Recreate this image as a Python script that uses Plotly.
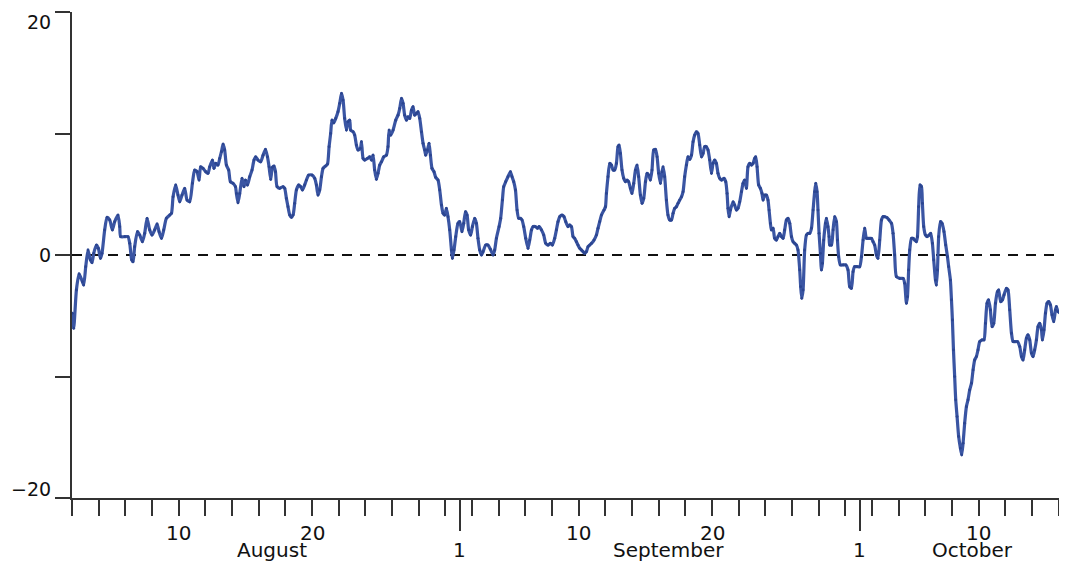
import plotly.graph_objects as go

# ---- data (x in days from left edge of axis, y in series units) ----
day = [0.03,0.13,0.33,0.53,0.78,0.88,1.03,1.20,1.38,1.50,1.63,1.83,1.98,2.13,2.25,2.45,2.63,2.83,3.03,3.20,
3.45,3.58,3.65,3.95,4.20,4.33,4.48,4.58,4.70,4.91,5.08,5.28,5.45,5.63,5.83,6.00,6.20,6.38,6.53,6.71,
6.88,7.08,7.33,7.46,7.58,7.78,7.95,8.08,8.25,8.45,8.63,8.83,9.03,9.20,9.38,9.53,9.65,9.83,10.03,10.20,
10.33,10.53,10.65,10.78,10.95,11.08,11.21,11.33,11.45,11.58,11.75,11.88,12.08,12.26,12.33,12.45,12.58,12.75,12.90,13.01,
13.16,13.33,13.50,13.65,13.78,13.95,14.15,14.33,14.51,14.66,14.78,14.90,15.03,15.15,15.26,15.38,15.58,15.83,15.95,16.08,
16.20,16.33,16.46,16.58,16.70,16.83,17.00,17.15,17.28,17.45,17.58,17.75,18.00,18.20,18.33,18.45,18.58,18.71,18.83,19.01,
19.16,19.28,19.40,19.50,19.63,19.78,19.95,20.08,20.21,20.33,20.45,20.58,20.70,20.83,20.90,21.08,21.20,21.33,21.45,21.63,
21.71,21.83,21.95,22.16,22.33,22.46,22.58,22.70,22.83,22.95,23.08,23.21,23.38,23.58,23.70,23.78,23.90,24.08,24.28,24.45,
24.58,24.71,24.83,24.95,25.08,25.20,25.33,25.46,25.58,25.70,25.83,25.95,26.08,26.21,26.33,26.45,26.53,26.66,26.78,26.88,
27.00,27.15,27.28,27.45,27.58,27.71,27.83,27.95,28.08,28.20,28.33,28.46,28.53,28.65,28.78,28.95,29.08,29.25,29.38,29.51,
29.63,29.75,29.90,30.03,30.20,30.33,30.45,30.58,30.71,30.83,31.03,31.20,31.38,31.58,31.70,31.83,32.03,32.15,32.28,32.38,
32.53,32.70,32.88,33.00,33.13,33.26,33.38,33.50,33.63,33.75,33.88,34.03,34.20,34.33,34.46,34.58,34.76,34.91,35.03,35.21,
35.38,35.53,35.70,35.88,36.03,36.20,36.33,36.45,36.58,36.75,36.90,37.03,37.20,37.33,37.46,37.58,37.70,37.83,37.95,38.08,
38.21,38.33,38.45,38.58,38.70,38.83,38.96,39.15,39.33,39.45,39.58,39.71,39.90,40.01,40.08,40.20,40.33,40.46,40.58,40.70,
40.83,40.95,41.03,41.13,41.25,41.38,41.51,41.63,41.75,41.88,42.00,42.13,42.26,42.38,42.50,42.63,42.75,42.88,43.01,43.13,
43.25,43.38,43.50,43.63,43.76,43.88,44.00,44.13,44.25,44.33,44.45,44.58,44.70,44.83,44.96,45.08,45.20,45.33,45.45,45.58,
45.71,45.83,45.95,46.08,46.20,46.33,46.46,46.58,46.70,46.83,46.95,47.08,47.21,47.33,47.45,47.58,47.70,47.83,47.96,48.08,
48.20,48.33,48.45,48.58,48.71,48.90,49.03,49.13,49.20,49.28,49.38,49.58,49.70,49.83,49.95,50.08,50.21,50.33,50.45,50.58,
50.70,50.83,50.96,51.08,51.20,51.28,51.38,51.50,51.63,51.75,51.83,51.95,52.08,52.20,52.28,52.38,52.46,52.58,52.70,52.83,
52.95,53.08,53.21,53.33,53.45,53.58,53.70,53.83,53.96,54.08,54.20,54.33,54.45,54.58,54.65,54.73,54.83,54.95,55.08,55.20,
55.33,55.46,55.58,55.70,55.78,55.88,55.95,56.03,56.13,56.21,56.28,56.38,56.51,56.58,56.70,56.78,56.83,56.96,57.08,57.20,
57.33,57.41,57.50,57.63,57.83,58.03,58.20,58.33,58.46,58.58,58.70,58.88,59.08,59.21,59.33,59.45,59.58,59.70,59.83,59.96,
60.08,60.20,60.33,60.45,60.58,60.71,60.83,60.95,61.13,61.28,61.46,61.58,61.70,61.83,62.08,62.33,62.45,62.58,62.66,62.75,
62.83,62.96,63.08,63.20,63.33,63.41,63.50,63.60,63.71,63.78,63.88,64.01,64.13,64.28,64.40,64.53,64.63,64.76,64.83,64.91,
65.00,65.13,65.25,65.40,65.53,65.66,65.75,65.88,65.96,66.03,66.11,66.20,66.28,66.38,66.50,66.63,66.73,66.83,66.95,67.08,
67.20,67.33,67.46,67.58,67.70,67.83,67.95,68.08,68.25,68.40,68.51,68.63,68.75,68.88,69.00,69.13,69.26,69.41,69.50,69.65,
69.78,69.90,70.08,70.20,70.33,70.46,70.58,70.70,70.91,71.08,71.21,71.33,71.45,71.58,71.70,71.83,71.96,72.08,72.20,72.33,
72.45,72.58,72.71,72.78,72.90,73.01,73.13,73.25,73.38,73.50,73.63,73.76,73.83,73.95,74.08,74.33]

value = [-4.79,-6.03,-2.88,-1.56,-2.20,-2.47,-0.96,0.41,-0.41,-0.63,0.14,0.82,0.55,-0.27,0.14,2.06,3.10,2.88,2.06,2.74,
3.29,2.33,1.51,1.51,1.51,0.96,-0.41,-0.55,0.68,1.92,1.64,1.09,1.78,3.02,2.06,1.64,2.06,2.55,1.92,1.37,
2.06,3.02,3.29,3.43,4.79,5.76,4.93,4.38,4.93,5.49,4.52,4.38,5.90,6.99,6.85,6.17,7.26,7.13,6.85,6.72,
7.26,7.81,7.13,7.54,7.40,7.95,8.50,9.13,8.64,7.40,6.99,6.03,5.90,5.62,5.07,4.30,5.07,6.31,5.62,6.17,
5.76,6.44,6.99,7.81,8.08,7.81,7.67,8.22,8.69,8.08,7.26,6.23,7.21,7.32,6.85,5.62,5.49,5.62,5.49,4.66,
3.97,3.29,3.10,3.29,4.25,5.35,5.76,5.62,5.35,5.76,6.17,6.58,6.58,6.31,5.76,4.93,5.35,6.44,7.13,7.32,
7.48,8.91,10.01,11.10,10.88,11.24,11.79,12.48,13.30,12.75,11.24,10.28,10.96,11.10,10.28,10.14,9.87,9.05,8.64,8.78,
9.32,7.95,7.81,7.95,8.08,7.81,8.22,6.99,6.23,6.72,7.40,7.67,8.08,8.22,8.91,10.28,9.87,10.28,11.10,11.51,
12.06,12.89,12.48,11.51,11.10,11.37,11.24,11.92,12.20,11.51,11.65,11.79,11.24,10.14,9.19,8.64,8.22,8.64,9.19,8.22,
7.13,6.85,6.39,6.17,5.35,4.11,3.43,3.29,3.84,3.15,2.06,0.41,-0.27,0.41,1.51,2.61,2.74,1.92,2.61,3.56,
3.29,2.06,1.64,2.33,3.02,2.61,1.37,0.41,0.00,0.27,0.82,0.82,0.47,0.00,0.41,1.37,2.33,3.02,4.52,5.62,
6.03,6.44,6.85,6.44,6.03,5.35,3.70,3.02,3.02,2.88,2.33,1.37,0.55,1.23,2.06,2.33,2.33,2.20,2.33,2.06,
1.64,0.96,0.82,0.96,0.82,1.37,2.06,2.74,3.15,3.29,3.15,2.74,2.33,2.47,2.33,1.51,1.37,1.09,0.82,0.55,
0.41,0.27,0.14,0.27,0.68,0.82,0.96,1.23,1.64,2.20,2.74,3.29,3.70,3.97,5.07,6.44,7.54,7.40,6.99,6.99,
7.54,8.91,9.05,8.36,6.99,6.31,6.03,6.17,6.03,5.49,5.07,5.90,6.99,7.40,6.44,4.93,4.25,4.66,6.03,6.72,
6.58,6.17,6.99,8.64,8.69,8.08,6.72,5.90,6.85,7.26,6.44,4.52,3.29,2.88,2.88,3.43,3.84,3.97,4.25,4.52,
4.79,5.21,6.44,7.40,8.08,7.87,8.22,9.32,9.87,10.14,10.01,9.05,8.08,8.36,8.91,8.91,8.64,7.81,6.72,7.54,
7.81,7.54,6.72,6.31,6.17,6.31,6.03,5.07,3.84,3.15,3.70,4.38,4.11,3.70,3.84,4.38,5.21,5.90,6.17,5.49,
7.26,7.54,7.40,7.54,7.95,8.08,7.26,5.76,5.49,5.07,4.52,4.93,4.93,4.52,3.70,2.61,2.06,2.20,1.37,1.23,
1.51,1.78,1.51,1.37,2.06,2.88,3.02,2.61,1.51,1.09,0.96,0.82,0.41,-1.23,-2.61,-3.56,-2.88,0.41,1.64,1.78,
1.78,2.20,3.70,5.21,5.90,5.21,3.70,1.78,0.14,-1.23,-0.68,1.23,2.61,3.02,2.33,1.51,0.82,0.82,2.06,3.15,
2.74,1.23,-0.14,-0.82,-0.82,-0.82,-1.23,-2.61,-2.74,-1.37,-0.96,-0.96,-0.96,-0.14,1.23,2.20,1.37,1.37,1.37,1.37,
1.09,0.82,0.00,-0.27,1.23,2.88,3.15,3.15,3.07,2.88,2.61,1.78,0.00,-1.78,-1.92,-1.92,-2.33,-3.97,-3.43,-1.23,
0.41,1.37,1.37,1.23,1.09,1.51,3.97,5.76,5.62,4.25,2.33,1.64,1.51,1.64,1.78,0.96,-0.41,-2.06,-2.47,-1.23,
1.51,2.74,2.61,1.92,0.82,-0.14,-0.96,-2.06,-3.70,-5.35,-7.81,-10.01,-11.92,-13.30,-14.94,-15.90,-16.45,-15.49,-13.84,-12.48,
-11.92,-11.10,-10.55,-9.46,-8.64,-8.36,-7.81,-7.13,-6.99,-6.99,-5.62,-3.97,-3.70,-4.52,-5.90,-5.62,-3.97,-3.02,-2.88,-3.84,
-3.70,-3.29,-2.74,-2.88,-4.52,-6.44,-7.13,-7.13,-7.13,-7.54,-8.36,-8.64,-7.81,-6.85,-6.58,-6.99,-8.08,-8.36,-7.81,-6.99,
-5.90,-5.62,-6.17,-6.99,-6.17,-4.79,-3.97,-3.84,-4.11,-4.93,-5.49,-4.52,-4.25,-4.66,-4.75,-4.85]

y_tick_vals = [-20, -10, 0, 10, 20]
y_label_vals = [20, 0, -20]
y_label_text = ["20", "0", "\u221220"]

day_tick_pos = [8, 18, 38, 48, 68]
day_tick_text = ["10", "20", "10", "20", "10"]
month_start_pos = [29.08, 59.08]
month_start_text = ["1", "1"]
month_names = ["August", "September", "October"]
month_name_pos = [15.0, 44.7, 67.55]
minor_tick_pos = list(range(0, 75, 2))

X_RANGE = [0, 74.55]
FONT = "DejaVu Sans, Liberation Sans, Arial, sans-serif"
AXIS_COLOR = "#333333"
TXT = "#111111"

fig = go.Figure()
fig.add_trace(go.Scatter(
    x=day, y=value, mode="lines+markers",
    line=dict(color="#3a55a3", width=3.2, shape="spline", smoothing=0.6),
    marker=dict(color="#2b4590", size=2.8),
    hoverinfo="skip", showlegend=False,
))

fig.add_shape(type="line", xref="paper", yref="y", x0=0, x1=1, y0=0, y1=0,
              line=dict(color="#111111", width=2, dash="10px,8px"), layer="below")

# y-axis labels (end labels sit inside the tick positions as in the original)
y_shifts = {20: -10, 0: 0, -20: 9}
for yv, t in zip(y_label_vals, y_label_text):
    fig.add_annotation(x=0, y=yv, xref="paper", yref="y", text=t, showarrow=False,
                       xanchor="right", yanchor="middle", xshift=-20, yshift=y_shifts[yv],
                       borderpad=0, font=dict(family=FONT, size=19, color=TXT))

for xv, t in zip(day_tick_pos, day_tick_text):
    fig.add_annotation(x=xv, y=-0.072, xref="x", yref="paper", text=t, showarrow=False,
                       xanchor="center", yanchor="middle", font=dict(family=FONT, size=20, color=TXT))
for xv, t in zip(month_start_pos, month_start_text):
    fig.add_annotation(x=xv, y=-0.107, xref="x", yref="paper", text=t, showarrow=False,
                       xanchor="center", yanchor="middle", font=dict(family=FONT, size=20, color=TXT))
for xv, t in zip(month_name_pos, month_names):
    fig.add_annotation(x=xv, y=-0.107, xref="x", yref="paper", text=t, showarrow=False,
                       xanchor="center", yanchor="middle", font=dict(family=FONT, size=20, color=TXT))

# page body has an 8px margin, so the figure is 8px smaller and margins compensate
fig.update_layout(
    width=1059, height=563,
    margin=dict(l=64, r=1, t=4, b=73),
    paper_bgcolor="white", plot_bgcolor="white",
    font=dict(family=FONT, size=20, color=TXT),
    xaxis=dict(
        range=X_RANGE, showgrid=False, zeroline=False,
        showline=True, linecolor=AXIS_COLOR, linewidth=1.5,
        tickmode="array", tickvals=month_start_pos, ticks="outside",
        ticklen=31, tickwidth=1.5, tickcolor=AXIS_COLOR, showticklabels=False,
        minor=dict(tickmode="array", tickvals=minor_tick_pos, ticks="outside",
                   ticklen=16, tickwidth=1.5, tickcolor=AXIS_COLOR, showgrid=False),
    ),
    yaxis=dict(
        range=[-20, 20], showgrid=False, zeroline=False,
        showline=True, linecolor=AXIS_COLOR, linewidth=1.5,
        tickmode="array", tickvals=y_tick_vals, showticklabels=False,
        ticks="outside", ticklen=15, tickwidth=1.5, tickcolor=AXIS_COLOR,
    ),
)

fig.write_html("out.html")
